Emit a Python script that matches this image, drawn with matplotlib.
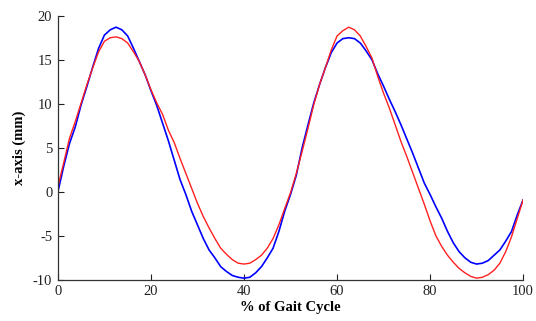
import matplotlib
matplotlib.use("Agg")
import matplotlib.pyplot as plt

# Percent of gait cycle (1.25 % steps)
gait_pct = [0, 1.25, 2.5, 3.75, 5, 6.25, 7.5, 8.75, 10, 11.25, 12.5, 13.75, 15,
            16.25, 17.5, 18.75, 20, 21.25, 22.5, 23.75, 25, 26.25, 27.5, 28.75,
            30, 31.25, 32.5, 33.75, 35, 36.25, 37.5, 38.75, 40, 41.25, 42.5,
            43.75, 45, 46.25, 47.5, 48.75, 50, 51.25, 52.5, 53.75, 55, 56.25,
            57.5, 58.75, 60, 61.25, 62.5, 63.75, 65, 66.25, 67.5, 68.75, 70,
            71.25, 72.5, 73.75, 75, 76.25, 77.5, 78.75, 80, 81.25, 82.5, 83.75,
            85, 86.25, 87.5, 88.75, 90, 91.25, 92.5, 93.75, 95, 96.25, 97.5,
            98.75, 100]

# x-axis displacement (mm), blue trace
blue_mm = [0.0, 2.9, 5.5, 7.4, 9.9, 12.0, 14.2, 16.3, 17.8, 18.4, 18.7, 18.4,
           17.7, 16.3, 14.8, 13.3, 11.5, 9.8, 7.8, 5.8, 3.6, 1.4, -0.3, -2.2,
           -3.75, -5.3, -6.6, -7.5, -8.5, -9.05, -9.5, -9.7, -9.8, -9.7, -9.2,
           -8.5, -7.5, -6.4, -4.5, -2.2, -0.3, 1.9, 5.0, 7.6, 10.1, 12.2, 14.1,
           15.8, 16.9, 17.4, 17.5, 17.4, 16.9, 16.0, 15.0, 13.4, 12.0, 10.5,
           9.1, 7.6, 6.0, 4.4, 2.7, 1.0, -0.3, -1.7, -3.0, -4.5, -5.8, -6.8,
           -7.5, -8.0, -8.2, -8.1, -7.8, -7.2, -6.6, -5.6, -4.5, -2.6, -0.9]

# x-axis displacement (mm), red trace
red_mm = [0.6, 3.3, 6.1, 8.0, 10.1, 12.2, 14.1, 15.9, 17.1, 17.5, 17.6, 17.4,
          16.9, 15.9, 14.8, 13.3, 11.6, 10.1, 8.8, 7.0, 5.6, 3.8, 2.1, 0.4,
          -1.3, -2.8, -4.1, -5.3, -6.4, -7.1, -7.7, -8.1, -8.2, -8.1, -7.7,
          -7.2, -6.4, -5.3, -3.75, -1.9, -0.1, 2.1, 4.6, 7.2, 9.9, 12.2, 14.1,
          16.1, 17.7, 18.3, 18.7, 18.4, 17.7, 16.5, 15.2, 13.1, 11.2, 9.5,
          7.6, 5.7, 4.0, 2.2, 0.4, -1.4, -3.3, -5.0, -6.2, -7.2, -8.0, -8.7,
          -9.2, -9.6, -9.8, -9.7, -9.4, -8.9, -8.1, -6.8, -5.1, -3.0, -0.9]

x_ticks = [0, 20, 40, 60, 80, 100]
y_ticks = [-10, -5, 0, 5, 10, 15, 20]

plt.rcParams['font.family'] = ['Liberation Serif', 'DejaVu Serif']
plt.rcParams['axes.unicode_minus'] = False

fig = plt.figure(figsize=(5.36, 3.21), dpi=100)
ax = fig.add_axes([0.108, 0.128, 0.868, 0.823])

ax.plot(gait_pct, blue_mm, color='#0000ff', lw=1.2)
ax.plot(gait_pct, red_mm, color='#ff2020', lw=1.0)

ax.set_xlim(0, 100)
ax.set_ylim(-10, 20)
ax.set_xticks(x_ticks)
ax.set_yticks(y_ticks)
ax.tick_params(direction='in', length=4, width=0.8, labelsize=10.5,
               colors='#222222', pad=4)
for side in ('top', 'right'):
    ax.spines[side].set_visible(False)
for side in ('left', 'bottom'):
    ax.spines[side].set_color('#333333')
    ax.spines[side].set_linewidth(0.9)

ax.set_xlabel('% of Gait Cycle', fontsize=10.5, fontweight='bold', labelpad=2)
ax.set_ylabel('x-axis (mm)', fontsize=10.5, fontweight='bold', labelpad=5)

fig.savefig('out.png', dpi=100)
